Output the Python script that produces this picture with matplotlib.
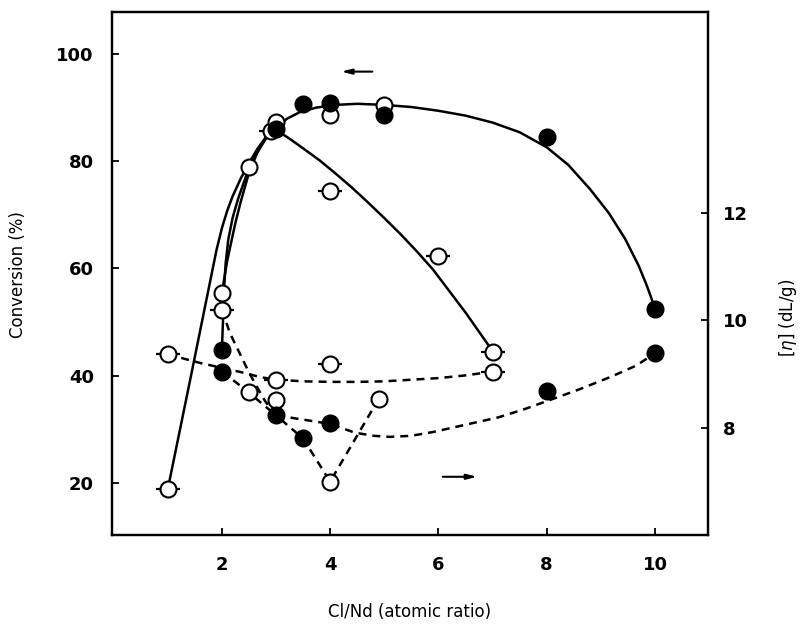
import matplotlib
matplotlib.use("Agg")
import matplotlib.pyplot as plt

# Cl/Nd ratio vs conversion (%) -- left axis, solid lines
conv_filled_x = [2, 3, 3.5, 4, 5, 8, 10]
conv_filled_y = [44.8, 86.0, 90.7, 90.8, 88.6, 84.5, 52.4]
conv_open_x = [2, 2.5, 3, 4, 5]
conv_open_y = [55.4, 78.9, 87.4, 88.6, 90.5]
conv_pip_x = [1, 2.9, 4, 6, 7]
conv_pip_y = [18.8, 85.7, 74.5, 62.4, 44.4]

# Cl/Nd ratio vs [eta] (dL/g) -- right axis, dashed lines
eta_filled_x = [2, 3, 3.5, 4, 8, 10]
eta_filled_y = [9.04, 8.24, 7.81, 8.10, 8.69, 9.39]
eta_open_x = [2.5, 3, 4, 4.9]
eta_open_y = [8.67, 8.52, 7.01, 8.55]
eta_pip_x = [1, 2, 3, 4, 7]
eta_pip_y = [9.38, 10.2, 8.89, 9.2, 9.05]

# hand drawn guide curves
fit_conv_filled_x = [2.0, 2.02, 2.04, 2.07, 2.12, 2.2, 2.3, 2.45, 2.6, 2.8, 3.0, 3.2, 3.45, 3.75,
                     4.1, 4.5, 5.0, 5.5, 6.0, 6.5, 7.0, 7.5, 8.0, 8.4, 8.8, 9.15, 9.45, 9.7,
                     9.85, 9.95, 10.0]
fit_conv_filled_y = [44.8, 50, 56, 61, 65.5, 69.5, 73, 77.3, 80.8, 84, 86.2, 87.9, 89.2, 90.0,
                     90.5, 90.7, 90.5, 90.1, 89.4, 88.5, 87.2, 85.4, 82.6, 79.3, 74.8, 70.3, 65.5, 60.5,
                     56.8, 54.0, 52.4]
fit_conv_open_x = [2.0, 2.05, 2.1, 2.17, 2.25, 2.35, 2.5, 2.65, 2.8, 3.0]
fit_conv_open_y = [55.4, 58.5, 61.5, 64.8, 68.5, 72.5, 77.8, 81.5, 84.2, 86.4]
fit_conv_pip_x = [1.0, 1.45, 1.9, 2.0, 2.1, 2.2, 2.35, 2.5, 2.65, 2.8, 2.92, 3.05, 3.25, 3.5,
                  3.8, 4.1, 4.4, 4.7, 5.0, 5.3, 5.6, 5.9, 6.2, 6.5, 6.75, 7.0]
fit_conv_pip_y = [18.8, 41, 63.4, 67.5, 70.8, 73.5, 76.8, 79.6, 82.2, 84.3, 85.4, 85.5, 84.2, 82.4,
                  80.2, 77.7, 75.1, 72.3, 69.4, 66.4, 63.2, 59.8, 55.8, 51.8, 48.2, 44.6]

fit_eta_pip_x = [1.0, 1.3, 1.6, 2.0, 2.4, 2.7, 3.0, 3.5, 4.0, 4.5, 5.0, 5.5, 6.0, 6.5, 7.0]
fit_eta_pip_y = [9.38, 9.29, 9.21, 9.12, 9.03, 8.95, 8.9, 8.87, 8.86, 8.86, 8.87, 8.9, 8.93, 8.98, 9.05]
fit_eta_v_x = [2.0, 2.15, 2.3, 2.45, 2.6, 2.8, 3.0, 3.5, 4.0, 4.9]
fit_eta_v_y = [10.2, 9.76, 9.45, 9.14, 8.85, 8.5, 8.24, 7.81, 7.01, 8.55]
fit_eta_filled_x = [2.0, 2.25, 2.5, 2.75, 3.0, 3.5, 4.0, 4.45, 4.8, 5.1, 5.5, 5.9, 6.3, 6.7,
                    7.1, 7.55, 8.05, 8.6, 9.2, 9.65, 10.0]
fit_eta_filled_y = [9.04, 8.86, 8.66, 8.45, 8.24, 8.16, 8.08, 7.92, 7.86, 7.84, 7.86, 7.93, 8.02, 8.11,
                    8.2, 8.34, 8.52, 8.72, 8.96, 9.16, 9.39]

x_ticks = [2, 4, 6, 8, 10]
conv_ticks = [20, 40, 60, 80, 100]
eta_ticks = [8, 10, 12]

plt.rcParams['font.family'] = ['DejaVu Sans']

fig = plt.figure(figsize=(8.01, 6.31), dpi=100)
ax = fig.add_axes([0.1398, 0.1521, 0.7441, 0.829])
ax2 = ax.twinx()

LW = 1.8
DASH = (0, (3.2, 2.4))
MS = 11.5


def draw_points(a, xs, ys, kind):
    if kind == 'pip':
        a.plot(xs, ys, ls='none', marker='_', ms=17, mew=1.6, color='black', zorder=4)
    face = 'black' if kind == 'filled' else 'white'
    a.plot(xs, ys, ls='none', marker='o', ms=MS, mfc=face, mec='black', mew=1.5, zorder=5)


line_kw = dict(color='black', lw=LW, zorder=2, solid_joinstyle='round', dash_joinstyle='round')

# conversion
ax.plot(fit_conv_filled_x, fit_conv_filled_y, **line_kw)
ax.plot(fit_conv_open_x, fit_conv_open_y, **line_kw)
ax.plot(fit_conv_pip_x, fit_conv_pip_y, **line_kw)
draw_points(ax, conv_pip_x, conv_pip_y, 'pip')
draw_points(ax, conv_open_x, conv_open_y, 'open')
draw_points(ax, conv_filled_x, conv_filled_y, 'filled')

# [eta]
ax2.plot(fit_eta_pip_x, fit_eta_pip_y, ls=DASH, **line_kw)
ax2.plot(fit_eta_v_x, fit_eta_v_y, ls=DASH, **line_kw)
ax2.plot(fit_eta_filled_x, fit_eta_filled_y, ls=DASH, **line_kw)
draw_points(ax2, eta_pip_x, eta_pip_y, 'pip')
draw_points(ax2, eta_open_x, eta_open_y, 'open')
draw_points(ax2, eta_filled_x, eta_filled_y, 'filled')

# arrows telling which axis a curve belongs to
arrow_kw = dict(arrowstyle='-|>,head_length=0.6,head_width=0.15', color='black', lw=1.5)
ax.annotate('', xy=(4.15, 96.7), xytext=(4.83, 96.7), arrowprops=arrow_kw)
ax2.annotate('', xy=(6.77, 7.10), xytext=(6.03, 7.10), arrowprops=arrow_kw)

ax.set_xlim(-0.03, 10.98)
ax.set_ylim(10.3, 107.83)
ax2.set_ylim(6.02, 15.72)
ax.set_xticks(x_ticks)
ax.set_yticks(conv_ticks)
ax2.set_yticks(eta_ticks)

tick_font = dict(fontsize=13, fontweight='bold')
ax.set_xticklabels([str(t) for t in x_ticks], **tick_font)
ax.set_yticklabels([str(t) for t in conv_ticks], **tick_font)
ax2.set_yticklabels([str(t) for t in eta_ticks], **tick_font)

ax.tick_params(axis='x', direction='in', length=5, width=1.3, pad=15)
ax.tick_params(axis='y', direction='in', length=5, width=1.3, pad=13)
ax2.tick_params(axis='y', direction='in', length=5, width=1.3, pad=11)

for a in (ax, ax2):
    for s in a.spines.values():
        s.set_linewidth(1.6)

ax.set_xlabel('Cl/Nd (atomic ratio)', fontsize=12)
ax.xaxis.set_label_coords(0.5, -0.147)
ax.xaxis.label.set_va('center')
ax.set_ylabel('Conversion (%)', fontsize=12)
ax.yaxis.set_label_coords(-0.158, 0.497)
ax.yaxis.label.set_va('center')
ax2.set_ylabel(r'$[\eta]$ (dL/g)', fontsize=12, rotation=90)
ax2.yaxis.set_label_coords(1.134, 0.415)
ax2.yaxis.label.set_va('center')

fig.savefig('out.png', dpi=100)
